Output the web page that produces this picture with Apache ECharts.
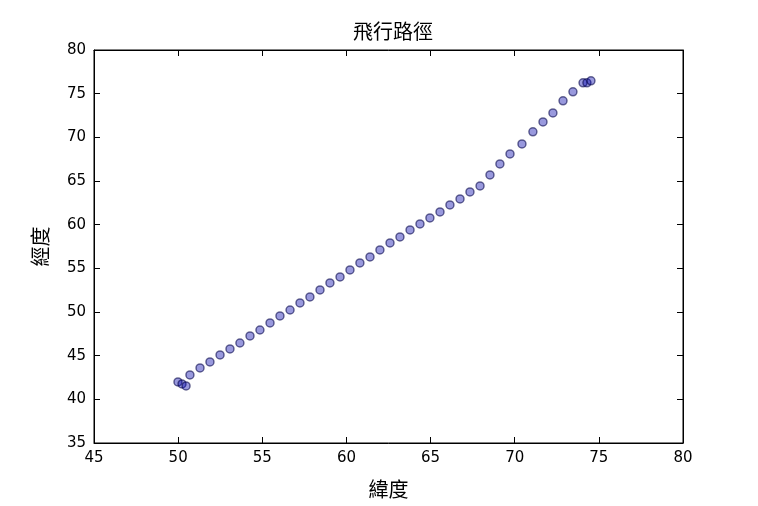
<!DOCTYPE html>
<html>
<head>
<meta charset="utf-8">
<script src="https://cdn.jsdelivr.net/npm/echarts@6/dist/echarts.min.js"></script>
<style>body{margin:0;background:#fff}#chart{width:758px;height:506px}</style>
</head>
<body>
<div id="chart"></div>
<script>
var lat = [49.99, 50.23, 50.47, 50.70, 51.30, 51.89, 52.49, 53.08, 53.67, 54.27, 54.86, 55.46,
  56.05, 56.65, 57.24, 57.83, 58.43, 59.02, 59.62, 60.21, 60.80, 61.40, 61.99, 62.59, 63.18,
  63.78, 64.37, 64.96, 65.56, 66.15, 66.75, 67.34, 67.94, 68.53, 69.12, 69.72, 70.43, 71.08,
  71.68, 72.27, 72.87, 73.46, 74.06, 74.29, 74.53];
var lon = [41.99, 41.76, 41.53, 42.79, 43.59, 44.28, 45.08, 45.77, 46.45, 47.26, 47.94, 48.75,
  49.55, 50.23, 51.04, 51.72, 52.53, 53.33, 54.02, 54.82, 55.62, 56.31, 57.11, 57.91, 58.60,
  59.40, 60.09, 60.77, 61.46, 62.26, 62.95, 63.75, 64.44, 65.70, 66.96, 68.10, 69.25, 70.63,
  71.77, 72.80, 74.18, 75.21, 76.24, 76.24, 76.47];

window.onload = function () {
  var myChart = echarts.init(document.getElementById("chart"));
  var font = "'Noto Sans CJK TC', 'DejaVu Sans', sans-serif";
  var data = lat.map(function (v, i) { return [v, lon[i]]; });
  function axis(extra) {
    return Object.assign({
      type: "value",
      axisLine: { onZero: false, lineStyle: { color: "#000", width: 1 } },
      axisTick: { inside: true, length: 6, lineStyle: { color: "#000" } },
      axisLabel: { color: "#000", fontSize: 15, fontFamily: "DejaVu Sans" },
      splitLine: { show: false },
    }, extra);
  }
  // matplotlib classic style draws ticks on all four sides
  var mirror = { show: true, name: "", axisLabel: { show: false } };
  myChart.setOption({
    animation: false,
    title: {
      text: "飛行路徑",
      left: 388,
      top: 16,
      textAlign: "center",
      textStyle: { fontSize: 20, fontWeight: "normal", color: "#000", fontFamily: font },
    },
    grid: { left: 94, right: 75, top: 50, bottom: 63, show: true, borderColor: "#000", borderWidth: 1 },
    xAxis: [
      axis({ min: 45, max: 80, interval: 5, name: "緯度", nameLocation: "middle", nameGap: 36,
        nameTextStyle: { fontSize: 20, color: "#000", fontFamily: font } }),
      axis({ min: 45, max: 80, interval: 5, position: "top", axisLabel: { show: false } }),
    ],
    yAxis: [
      axis({ min: 35, max: 80, interval: 5, name: "經度", nameLocation: "middle", nameGap: 44,
        nameTextStyle: { fontSize: 20, color: "#000", fontFamily: font } }),
      axis({ min: 35, max: 80, interval: 5, position: "right", axisLabel: { show: false } }),
    ],
    series: [{
      type: "scatter",
      data: data,
      symbolSize: 8,
      itemStyle: { color: "rgba(0,0,170,0.5)", borderColor: "rgba(0,0,70,0.7)", borderWidth: 1.5 },
    }],
  });
};
</script>
</body>
</html>
